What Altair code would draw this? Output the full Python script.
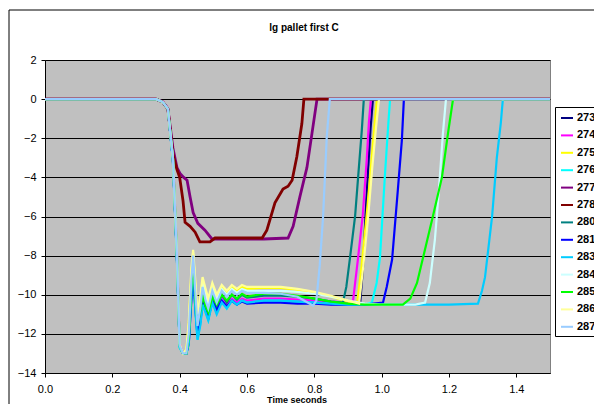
import altair as alt
import pandas as pd

FONT = "Liberation Sans"

SERIES = ["273", "274", "275", "276", "277", "278", "280", "281", "283", "284", "285", "286", "287"]
COLORS = ["#000080", "#FF00FF", "#FFFF00", "#00FFFF", "#800080", "#800000", "#008080",
          "#0000FF", "#00CCFF", "#CCFFFF", "#00FF00", "#FFFF99", "#99CCFF"]

# shared time points of the drop / ringing phase (seconds)
T_EARLY = [0.0, 0.33, 0.35, 0.365, 0.38, 0.392, 0.40, 0.41, 0.42, 0.427, 0.435, 0.44, 0.447,
           0.453, 0.462, 0.468, 0.477, 0.485, 0.497, 0.51, 0.525, 0.54, 0.555, 0.57, 0.585, 0.60]

V_273 = [0, 0, -0.15, -0.5, -3.1, -8.2, -12.6, -13.0, -13.0, -12.3, -9.8, -8.6, -10.6, -12.0, -11.2,
         -10.2, -10.8, -11.2, -10.3, -10.8, -10.3, -10.6, -10.3, -10.5, -10.3, -10.4]
T_273_LATE = [0.65, 0.70, 0.75, 0.80, 0.85, 0.90, 0.936, 0.945, 0.952, 0.96, 0.967, 0.974, 1.5]
V_273_LATE = [-10.3, -10.3, -10.35, -10.4, -10.45, -10.5, -10.45, -8.5, -6.0, -3.5, -1.5, 0, 0]

V_274 = [0, 0, -0.12, -0.45, -2.9, -7.9, -12.5, -13.0, -13.0, -12.2, -9.6, -8.4, -10.4, -11.8, -11.0,
         -10.0, -10.6, -11.0, -10.1, -10.7, -10.1, -10.5, -10.2, -10.4, -10.2, -10.3]
T_274_LATE = [0.65, 0.70, 0.75, 0.80, 0.85, 0.90, 0.915, 0.93, 0.944, 0.956, 0.962, 0.968, 1.5]
V_274_LATE = [-10.2, -10.2, -10.25, -10.3, -10.35, -10.4, -10.3, -8.1, -5.9, -3.0, -1.2, 0, 0]

V_275 = [0, 0, -0.15, -0.5, -3.0, -8.0, -12.6, -13.0, -12.8, -11.5, -8.8, -7.9, -9.6, -11.2, -10.2,
         -9.2, -9.9, -10.4, -9.5, -10.1, -9.6, -9.9, -9.6, -9.8, -9.6, -9.7]
T_275_LATE = [0.65, 0.70, 0.75, 0.80, 0.85, 0.90, 0.927, 0.94, 0.955, 0.968, 0.978, 0.986, 1.5]
V_275_LATE = [-9.65, -9.65, -9.75, -9.9, -10.1, -10.35, -10.45, -8.6, -6.0, -3.5, -1.5, 0, 0]

V_276 = [0, 0, -0.15, -0.5, -3.1, -8.2, -12.7, -13.0, -13.0, -12.4, -10.0, -8.7, -10.8, -12.3, -11.4,
         -10.4, -10.9, -11.3, -10.4, -10.9, -10.3, -10.7, -10.3, -10.5, -10.3, -10.4]
T_276_LATE = [0.65, 0.70, 0.75, 0.80, 0.85, 0.90, 0.95, 0.971, 0.985, 0.995, 1.01, 1.02, 1.025, 1.5]
V_276_LATE = [-10.3, -10.3, -10.35, -10.4, -10.45, -10.5, -10.5, -10.4, -9.4, -8.1, -3.8, -1.2, 0, 0]

T_277 = [0, 0.33, 0.35, 0.365, 0.38, 0.392, 0.401, 0.412, 0.422, 0.431, 0.440, 0.454, 0.475, 0.496,
         0.55, 0.65, 0.722, 0.737, 0.757, 0.778, 0.793, 0.808, 1.5]
V_277 = [0, 0, -0.15, -0.5, -2.5, -3.5, -3.8, -4.0, -4.15, -5.0, -5.8, -6.35, -6.7, -7.15,
         -7.15, -7.15, -7.1, -6.5, -5.0, -3.5, -1.75, 0, 0]

T_278 = [0, 0.33, 0.35, 0.365, 0.38, 0.392, 0.40, 0.410, 0.416, 0.431, 0.446, 0.460, 0.490, 0.505,
         0.55, 0.60, 0.645, 0.659, 0.683, 0.707, 0.722, 0.734, 0.748, 0.763, 0.769, 1.5]
V_278 = [0, 0, -0.15, -0.5, -2.8, -3.6, -4.0, -5.2, -6.3, -6.5, -6.8, -7.3, -7.3, -7.1,
         -7.1, -7.1, -7.1, -6.7, -5.3, -4.6, -4.45, -4.15, -2.95, -1.25, 0, 0]

V_280 = [0, 0, -0.15, -0.5, -3.0, -8.0, -12.6, -13.0, -13.0, -12.2, -9.6, -8.4, -10.3, -11.7, -10.9,
         -10.0, -10.6, -11.0, -10.1, -10.6, -10.0, -10.4, -10.0, -10.25, -10.0, -10.15]
T_280_LATE = [0.65, 0.70, 0.75, 0.80, 0.85, 0.885, 0.895, 0.906, 0.921, 0.930, 0.941, 0.947, 1.5]
V_280_LATE = [-10.05, -10.05, -10.1, -10.2, -10.35, -10.4, -9.6, -8.1, -6.0, -4.0, -1.6, 0, 0]

V_281 = [0, 0, -0.15, -0.5, -3.1, -8.1, -12.6, -13.0, -13.0, -12.5, -10.2, -9.0, -10.8, -12.1, -11.3,
         -10.4, -10.8, -11.2, -10.3, -10.8, -10.3, -10.6, -10.3, -10.5, -10.35, -10.45]
T_281_LATE = [0.65, 0.70, 0.75, 0.80, 0.85, 0.90, 0.95, 1.004, 1.015, 1.031, 1.048, 1.060, 1.066, 1.5]
V_281_LATE = [-10.4, -10.4, -10.45, -10.45, -10.5, -10.5, -10.5, -10.4, -9.6, -8.2, -4.65, -2.1, 0, 0]

V_283 = [0, 0, -0.15, -0.5, -3.2, -8.3, -12.7, -13.0, -13.0, -12.5, -10.0, -8.2, -10.9, -12.3, -11.5,
         -10.5, -10.9, -11.3, -10.4, -11.0, -10.4, -10.7, -10.3, -10.5, -10.3, -10.4]
T_283_LATE = [0.65, 0.70, 0.75, 0.80, 0.85, 0.90, 1.0, 1.1, 1.2, 1.286, 1.298, 1.307, 1.328, 1.342,
              1.354, 1.360, 1.5]
V_283_LATE = [-10.3, -10.3, -10.35, -10.4, -10.45, -10.5, -10.5, -10.5, -10.5, -10.45, -9.8, -9.1, -6.0,
              -3.0, -1.2, 0, 0]

V_284 = [0, 0, -0.15, -0.5, -3.0, -8.0, -12.6, -13.0, -12.9, -11.8, -9.0, -7.8, -9.8, -11.4, -10.4,
         -9.3, -10.0, -10.5, -9.6, -10.2, -9.7, -10.0, -9.7, -9.9, -9.7, -9.8]
T_284_LATE = [0.65, 0.70, 0.75, 0.80, 0.85, 0.90, 0.95, 1.0, 1.05, 1.1, 1.129, 1.143, 1.158, 1.170,
              1.182, 1.191, 1.5]
V_284_LATE = [-9.8, -9.8, -9.85, -9.95, -10.1, -10.3, -10.45, -10.5, -10.5, -10.5, -10.4, -9.4, -7.2,
              -4.65, -1.75, 0, 0]

V_285 = [0, 0, -0.15, -0.5, -3.0, -8.0, -12.6, -13.0, -13.0, -12.2, -9.5, -8.3, -10.2, -11.5, -10.8,
         -10.0, -10.6, -10.9, -10.1, -10.5, -10.0, -10.3, -10.0, -10.2, -9.95, -10.1]
T_285_LATE = [0.65, 0.70, 0.75, 0.80, 0.85, 0.90, 0.95, 1.0, 1.063, 1.085, 1.105, 1.123, 1.152, 1.179,
              1.197, 1.212, 1.5]
V_285_LATE = [-9.95, -9.95, -10.05, -10.2, -10.35, -10.45, -10.5, -10.5, -10.5, -10.2, -9.4, -8.1, -6.0,
              -4.0, -1.75, 0, 0]

V_286 = [0, 0, -0.15, -0.5, -3.0, -7.9, -12.5, -13.0, -12.8, -11.4, -8.6, -7.7, -9.4, -11.0, -10.0,
         -9.1, -9.7, -10.2, -9.4, -10.0, -9.5, -9.8, -9.5, -9.7, -9.5, -9.6]
T_286_LATE = [0.65, 0.70, 0.75, 0.80, 0.85, 0.90, 0.933, 0.945, 0.96, 0.972, 0.983, 0.992, 1.5]
V_286_LATE = [-9.6, -9.6, -9.7, -9.85, -10.05, -10.3, -10.45, -8.6, -6.0, -3.5, -1.5, 0, 0]

V_287 = [0, 0, -0.15, -0.5, -3.0, -8.0, -12.6, -13.0, -13.0, -12.0, -9.2, -8.0, -10.0, -11.6, -10.6,
         -9.6, -10.3, -10.7, -9.8, -10.4, -9.8, -10.1, -9.8, -10.0, -9.8, -9.9]
T_287_LATE = [0.65, 0.70, 0.75, 0.78, 0.796, 0.806, 0.816, 0.826, 0.837, 0.846, 1.5]
V_287_LATE = [-9.9, -9.95, -10.1, -10.4, -10.55, -10.3, -8.5, -6.0, -1.9, 0, 0]

THICK_SERIES = ["277", "278"]
Y_TICKS = [-14, -12, -10, -8, -6, -4, -2, 0, 2]
X_TICKS = [0.0, 0.2, 0.4, 0.6, 0.8, 1.0, 1.2, 1.4]
TITLE = "lg pallet first C"
X_TITLE = "Time seconds"

curves = {
    "273": (T_EARLY + T_273_LATE, V_273 + V_273_LATE),
    "274": (T_EARLY + T_274_LATE, V_274 + V_274_LATE),
    "275": (T_EARLY + T_275_LATE, V_275 + V_275_LATE),
    "276": (T_EARLY + T_276_LATE, V_276 + V_276_LATE),
    "277": (T_277, V_277),
    "278": (T_278, V_278),
    "280": (T_EARLY + T_280_LATE, V_280 + V_280_LATE),
    "281": (T_EARLY + T_281_LATE, V_281 + V_281_LATE),
    "283": (T_EARLY + T_283_LATE, V_283 + V_283_LATE),
    "284": (T_EARLY + T_284_LATE, V_284 + V_284_LATE),
    "285": (T_EARLY + T_285_LATE, V_285 + V_285_LATE),
    "286": (T_EARLY + T_286_LATE, V_286 + V_286_LATE),
    "287": (T_EARLY + T_287_LATE, V_287 + V_287_LATE),
}

rows = []
for s in SERIES:
    ts, vs = curves[s]
    for i, (t, v) in enumerate(zip(ts, vs)):
        rows.append({"series": s, "t": t, "v": v, "i": i})
df = pd.DataFrame(rows)

lines = alt.Chart(df).mark_line(clip=True).encode(
    x=alt.X("t:Q", scale=alt.Scale(domain=[0, 1.5], nice=False, zero=False),
            axis=alt.Axis(values=X_TICKS, format=".1f", grid=False, title=None,
                          tickSize=4, labelPadding=6, labelFlush=False, labelOverlap=False)),
    y=alt.Y("v:Q", scale=alt.Scale(domain=[-14, 2], nice=False),
            axis=alt.Axis(values=Y_TICKS, grid=True, title=None, tickSize=4,
                          labelPadding=5, labelFlush=False, labelOverlap=False)),
    color=alt.Color("series:N", scale=alt.Scale(domain=SERIES, range=COLORS),
                    legend=alt.Legend(title=None, orient="none", legendX=510, legendY=47,
                                      symbolType="stroke", symbolStrokeWidth=2, symbolSize=144,
                                      labelFontSize=11, labelFontWeight="bold", labelFont=FONT,
                                      labelColor="black", padding=4, rowPadding=5.4,
                                      symbolOffset=1, labelOffset=3,
                                      strokeColor="black", fillColor="white")),
    strokeWidth=alt.condition(alt.FieldOneOfPredicate(field="series", oneOf=THICK_SERIES),
                              alt.value(2.8), alt.value(2.2)),
    order=alt.Order("i:Q"),
)

border = alt.Chart(pd.DataFrame({"a": [0]})).mark_rect(
    fillOpacity=0, stroke="black", strokeWidth=1
).encode(x=alt.value(-36), x2=alt.value(600), y=alt.value(-50), y2=alt.value(400))

title = alt.Chart(pd.DataFrame({"t": [TITLE]})).mark_text(
    font=FONT, fontSize=10, fontWeight="bold", color="black", baseline="alphabetic"
).encode(text="t:N", x=alt.value(259), y=alt.value(-29))

xtitle = alt.Chart(pd.DataFrame({"t": [X_TITLE]})).mark_text(
    font=FONT, fontSize=9, fontWeight="bold", color="black", baseline="alphabetic"
).encode(text="t:N", x=alt.value(252), y=alt.value(343))

chart = alt.layer(lines, border, title, xtitle).properties(
    width=505, height=313,
    autosize=alt.AutoSizeParams(type="none"),
    padding={"left": 37, "top": 52, "right": 44, "bottom": 31},
    background="white",
).configure_view(
    fill="#C0C0C0", stroke="#808080", strokeWidth=1
).configure_axis(
    labelFont=FONT, labelFontSize=11, labelColor="black",
    domainColor="black", tickColor="black", gridColor="black", gridWidth=1,
    domainWidth=1, tickWidth=1
)

chart.save("out.html", embed_options={"renderer": "svg", "actions": False})
